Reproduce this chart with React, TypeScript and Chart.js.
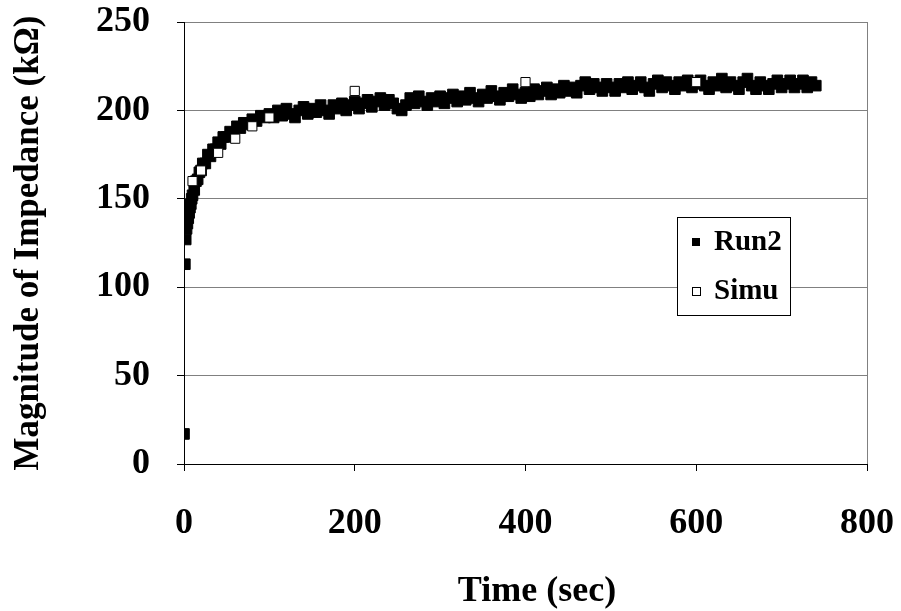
import React, { useEffect, useRef } from "react";
import { Chart, registerables } from "chart.js";

Chart.register(...registerables);

// Run2 measured data
const run2Time: number[] = [
  0, 1, 2, 3, 4, 5, 6, 7, 8, 9, 10, 12, 14, 16, 18, 20, 22, 25, 28, 31, 34, 37, 40, 43, 46, 50, 54, 58, 62, 66, 70, 75, 80, 85, 90, 95, 100,
  105, 110, 115, 120, 125, 130, 135, 140, 145, 150, 155, 160, 165, 170, 175, 180, 185, 190, 195, 200,
  205, 210, 215, 220, 225, 230, 235, 240, 245, 250, 255, 260, 265, 270, 275, 280, 285, 290, 295, 300,
  305, 310, 315, 320, 325, 330, 335, 340, 345, 350, 355, 360, 365, 370, 375, 380, 385, 390, 395, 400,
  405, 410, 415, 420, 425, 430, 435, 440, 445, 450, 455, 460, 465, 470, 475, 480, 485, 490, 495, 500,
  505, 510, 515, 520, 525, 530, 535, 540, 545, 550, 555, 560, 565, 570, 575, 580, 585, 590, 595, 600,
  605, 610, 615, 620, 625, 630, 635, 640, 645, 650, 655, 660, 665, 670, 675, 680, 685, 690, 695, 700,
  705, 710, 715, 720, 725, 730, 735, 740,
];
const run2Value: number[] = [
  17, 113, 127, 133, 136, 139, 142, 145, 147, 150, 152, 155, 160, 161, 165, 166, 170, 170, 175, 174, 178, 178, 182, 181, 185, 185, 188, 187, 191, 190, 193, 192, 195, 194, 197, 196, 198,
  196, 200, 197, 201, 198, 196, 200, 202, 198, 201, 199, 203, 200, 198, 203, 201, 204, 200, 203, 205,
  201, 204, 206, 202, 205, 207, 203, 206, 204, 201, 200, 203, 207, 204, 208, 205, 203, 207, 205, 208,
  204, 207, 209, 205, 208, 206, 210, 207, 205, 209, 207, 211, 208, 206, 210, 208, 212, 209, 207, 210,
  208, 212, 209, 211, 213, 209, 212, 210, 214, 211, 213, 210, 214, 216, 212, 215, 213, 211, 215, 213,
  211, 215, 213, 216, 212, 214, 216, 213, 211, 215, 217, 213, 216, 214, 212, 216, 214, 217, 213, 215,
  217, 214, 212, 216, 214, 218, 213, 216, 214, 212, 216, 218, 214, 212, 216, 214, 212, 215, 217, 213,
  215, 217, 213, 215, 217, 213, 216, 214,
];

// Simulation
const simuTime: number[] = [10, 20, 40, 60, 80, 100, 200, 400, 600];
const simuValue: number[] = [160, 166, 176, 184, 191, 196, 211, 216, 216];

const xTicks: number[] = [0, 200, 400, 600, 800];
const yTicks: number[] = [0, 50, 100, 150, 200, 250];

const seriesNames: string[] = ["Run2", "Simu"];
const xTitle = "Time (sec)";
const yTitle = "Magnitude of Impedance (k\u03A9)";

const FONT = '"Liberation Serif", "Times New Roman", serif';

const overlayPlugin = {
  id: "boxLegend",
  afterDatasetsDraw(chart: any) {
    const ctx = chart.ctx as CanvasRenderingContext2D;
    const bx = 677.5, by = 217.5, bw = 113, bh = 98;
    ctx.save();
    ctx.fillStyle = "#ffffff";
    ctx.fillRect(bx, by, bw, bh);
    ctx.strokeStyle = "#000000";
    ctx.lineWidth = 1;
    ctx.strokeRect(bx, by, bw, bh);
    // Run2 marker
    ctx.fillStyle = "#000000";
    ctx.fillRect(692, 238, 8, 8);
    // Simu marker
    ctx.fillStyle = "#ffffff";
    ctx.fillRect(692.5, 287.5, 8, 8);
    ctx.strokeRect(692.5, 287.5, 8, 8);
    ctx.fillStyle = "#000000";
    ctx.font = `bold 29px ${FONT}`;
    ctx.textBaseline = "middle";
    ctx.textAlign = "left";
    ctx.fillText(seriesNames[0], 714, 243);
    ctx.fillText(seriesNames[1], 714, 292);
    // x axis title
    ctx.font = `bold 36px ${FONT}`;
    ctx.textAlign = "center";
    ctx.textBaseline = "alphabetic";
    ctx.fillText(xTitle, 537, 601);
    ctx.restore();
  },
};

export default function App() {
  const ref = useRef<HTMLCanvasElement | null>(null);
  useEffect(() => {
    if (!ref.current) return;
    const chart = new Chart(ref.current, {
      type: "scatter",
      data: {
        datasets: [
          {
            label: seriesNames[1],
            data: simuTime.map((t, i) => ({ x: t, y: simuValue[i] })),
            pointStyle: "rect",
            pointRadius: 6.5,
            backgroundColor: "#ffffff",
            borderColor: "#000000",
            borderWidth: 1,
            showLine: false,
            order: 0,
          },
          {
            label: seriesNames[0],
            data: run2Time.map((t, i) => ({ x: t, y: run2Value[i] })),
            pointStyle: "rect",
            pointRadius: 7.5,
            backgroundColor: "#000000",
            borderColor: "#000000",
            borderWidth: 1,
            showLine: false,
            order: 1,
          },
        ],
      },
      options: {
        animation: false,
        responsive: false,
        events: [],
        layout: { padding: { left: 0, top: 22, right: 34, bottom: 0 } },
        plugins: { legend: { display: false }, tooltip: { enabled: false } },
        scales: {
          x: {
            type: "linear",
            min: 0,
            max: 800,
            afterBuildTicks: (s: any) => {
              s.ticks = xTicks.map((v) => ({ value: v }));
            },
            afterFit: (s: any) => {
              s.height = 147;
              s.paddingLeft = 0;
              s.paddingRight = 0;
              s.paddingTop = 0;
              s.paddingBottom = 0;
            },
            ticks: {
              color: "#000000",
              font: { family: FONT, size: 36, weight: "bold" },
              padding: 31,
              maxRotation: 0,
            },
            grid: {
              color: (c: any) => (c.tick && c.tick.value === 800 ? "#808080" : "rgba(0,0,0,0)"),
              tickColor: "#000000",
              tickLength: 7,
              lineWidth: 1,
            },
            border: { color: "#000000", width: 1 },
            title: { display: false },
          },
          y: {
            type: "linear",
            min: 0,
            max: 250,
            afterBuildTicks: (s: any) => {
              s.ticks = yTicks.map((v) => ({ value: v }));
            },
            afterFit: (s: any) => {
              s.width = 184;
              s.paddingLeft = 0;
              s.paddingRight = 0;
              s.paddingTop = 0;
              s.paddingBottom = 0;
            },
            ticks: {
              color: "#000000",
              font: { family: FONT, size: 36, weight: "bold" },
              padding: 27,
            },
            grid: {
              color: "#808080",
              tickColor: "#000000",
              tickLength: 7,
              lineWidth: 1,
            },
            border: { color: "#000000", width: 1 },
            title: {
              display: true,
              text: yTitle,
              color: "#000000",
              font: { family: FONT, size: 35, weight: "bold" },
              padding: { top: 8, bottom: 0 },
            },
          },
        },
      },
      plugins: [overlayPlugin],
    });
    return () => chart.destroy();
  }, []);
  return (
    <div style={{ position: "fixed", left: 0, top: 0, width: 901, height: 611, background: "#ffffff" }}>
      <canvas ref={ref} width={901} height={611} style={{ display: "block" }} />
    </div>
  );
}
